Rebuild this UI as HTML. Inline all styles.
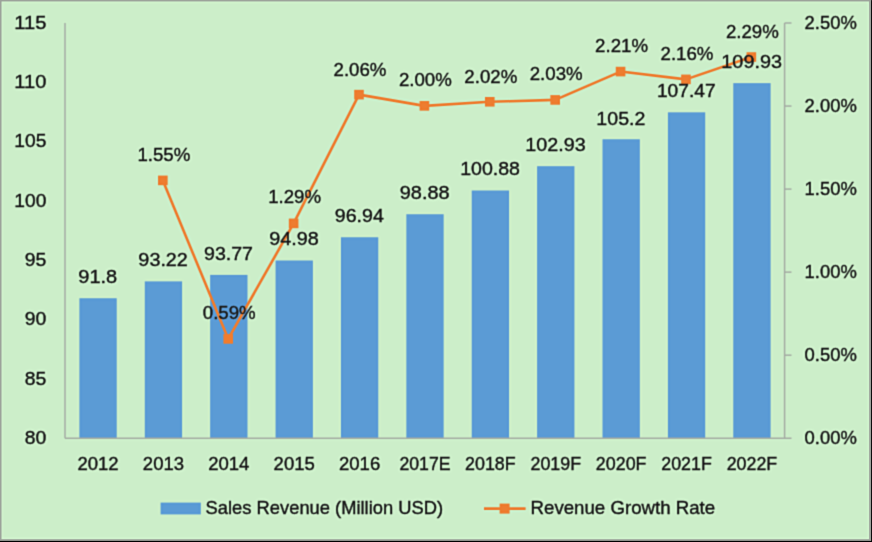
<!DOCTYPE html>
<html><head><meta charset="utf-8"><title>Chart</title>
<style>
html,body{margin:0;padding:0;background:#000;}
body{width:872px;height:542px;overflow:hidden;}
svg{display:block;}
text{font-family:"Liberation Sans",sans-serif;font-size:19.0px;fill:#1e1e1e;stroke:#1e1e1e;stroke-width:0.4px;}
</style></head><body>
<svg width="872" height="542" viewBox="0 0 872 542">
<defs><filter id="b" color-interpolation-filters="sRGB" filterUnits="userSpaceOnUse" x="-20" y="-20" width="912" height="582"><feConvolveMatrix in="SourceGraphic" order="3" kernelMatrix="0.03240 0.11520 0.03240 0.11520 0.40960 0.11520 0.03240 0.11520 0.03240" divisor="1" edgeMode="duplicate" preserveAlpha="true" result="b1"/><feGaussianBlur in="b1" stdDeviation="1.5" result="b2"/><feComposite in="b1" in2="b2" operator="arithmetic" k1="0" k2="1.35" k3="-0.35" k4="0"/></filter></defs>
<g filter="url(#b)">
<rect x="-20" y="-20" width="912" height="582" fill="#000"/>
<rect x="-20" y="-20" width="891.1" height="560.9" fill="#9a9f98"/>
<rect x="1.35" y="1.3" width="867.9" height="538.05" fill="#d3f6d0"/>
<rect x="2.4" y="2.4" width="865.7" height="535.8" fill="#cceec9"/>
<rect x="79.40" y="298.25" width="37.30" height="140.00" fill="#5b9bd5"/>
<rect x="144.79" y="281.40" width="37.30" height="156.85" fill="#5b9bd5"/>
<rect x="210.18" y="274.88" width="37.30" height="163.37" fill="#5b9bd5"/>
<rect x="275.57" y="260.52" width="37.30" height="177.73" fill="#5b9bd5"/>
<rect x="340.96" y="237.27" width="37.30" height="200.98" fill="#5b9bd5"/>
<rect x="406.35" y="214.25" width="37.30" height="224.00" fill="#5b9bd5"/>
<rect x="471.74" y="190.52" width="37.30" height="247.73" fill="#5b9bd5"/>
<rect x="537.13" y="166.20" width="37.30" height="272.05" fill="#5b9bd5"/>
<rect x="602.52" y="139.27" width="37.30" height="298.98" fill="#5b9bd5"/>
<rect x="667.91" y="112.34" width="37.30" height="325.91" fill="#5b9bd5"/>
<rect x="733.30" y="83.15" width="37.30" height="355.10" fill="#5b9bd5"/>
<g stroke="#a7b0a6" stroke-width="1.5" fill="none">
<line x1="65" y1="23.0" x2="65" y2="438.2"/>
<line x1="65" y1="438.2" x2="791.5" y2="438.2"/>
<line x1="784.6" y1="23.0" x2="784.6" y2="438.2"/>
<line x1="784.6" y1="355.20" x2="791.5" y2="355.20"/>
<line x1="784.6" y1="272.15" x2="791.5" y2="272.15"/>
<line x1="784.6" y1="189.10" x2="791.5" y2="189.10"/>
<line x1="784.6" y1="106.05" x2="791.5" y2="106.05"/>
<line x1="784.6" y1="23.00" x2="791.5" y2="23.00"/>
</g>
<polyline points="162.84,180.39 228.23,338.90 293.62,223.38 359.01,94.63 424.40,105.85 489.79,101.78 555.18,99.92 620.57,71.57 685.96,79.37 751.35,57.03" fill="none" stroke="#ed7d31" stroke-width="2.6" stroke-linejoin="round"/>
<rect x="158.04" y="175.59" width="9.6" height="9.6" fill="#ed7d31"/>
<rect x="223.43" y="334.10" width="9.6" height="9.6" fill="#ed7d31"/>
<rect x="288.82" y="218.58" width="9.6" height="9.6" fill="#ed7d31"/>
<rect x="354.21" y="89.83" width="9.6" height="9.6" fill="#ed7d31"/>
<rect x="419.60" y="101.05" width="9.6" height="9.6" fill="#ed7d31"/>
<rect x="484.99" y="96.98" width="9.6" height="9.6" fill="#ed7d31"/>
<rect x="550.38" y="95.12" width="9.6" height="9.6" fill="#ed7d31"/>
<rect x="615.77" y="66.77" width="9.6" height="9.6" fill="#ed7d31"/>
<rect x="681.16" y="74.57" width="9.6" height="9.6" fill="#ed7d31"/>
<rect x="746.55" y="52.23" width="9.6" height="9.6" fill="#ed7d31"/>
<text x="46.3" y="444.05" text-anchor="end" textLength="21.6" lengthAdjust="spacingAndGlyphs">80</text>
<text x="46.3" y="384.73" text-anchor="end" textLength="21.6" lengthAdjust="spacingAndGlyphs">85</text>
<text x="46.3" y="325.41" text-anchor="end" textLength="21.6" lengthAdjust="spacingAndGlyphs">90</text>
<text x="46.3" y="266.09" text-anchor="end" textLength="21.6" lengthAdjust="spacingAndGlyphs">95</text>
<text x="46.3" y="206.76" text-anchor="end" textLength="32.0" lengthAdjust="spacingAndGlyphs">100</text>
<text x="46.3" y="147.44" text-anchor="end" textLength="32.0" lengthAdjust="spacingAndGlyphs">105</text>
<text x="46.3" y="88.12" text-anchor="end" textLength="32.0" lengthAdjust="spacingAndGlyphs">110</text>
<text x="46.3" y="28.80" text-anchor="end" textLength="32.0" lengthAdjust="spacingAndGlyphs">115</text>
<text x="804.6" y="444.25" textLength="52.2" lengthAdjust="spacingAndGlyphs">0.00%</text>
<text x="804.6" y="361.20" textLength="52.2" lengthAdjust="spacingAndGlyphs">0.50%</text>
<text x="804.6" y="278.15" textLength="52.2" lengthAdjust="spacingAndGlyphs">1.00%</text>
<text x="804.6" y="195.10" textLength="52.2" lengthAdjust="spacingAndGlyphs">1.50%</text>
<text x="804.6" y="112.05" textLength="52.2" lengthAdjust="spacingAndGlyphs">2.00%</text>
<text x="804.6" y="29.00" textLength="52.2" lengthAdjust="spacingAndGlyphs">2.50%</text>
<text x="98.05" y="470.3" text-anchor="middle" textLength="41.2" lengthAdjust="spacingAndGlyphs">2012</text>
<text x="163.44" y="470.3" text-anchor="middle" textLength="41.2" lengthAdjust="spacingAndGlyphs">2013</text>
<text x="228.83" y="470.3" text-anchor="middle" textLength="41.2" lengthAdjust="spacingAndGlyphs">2014</text>
<text x="294.22" y="470.3" text-anchor="middle" textLength="41.2" lengthAdjust="spacingAndGlyphs">2015</text>
<text x="359.61" y="470.3" text-anchor="middle" textLength="41.2" lengthAdjust="spacingAndGlyphs">2016</text>
<text x="425.00" y="470.3" text-anchor="middle" textLength="51.2" lengthAdjust="spacingAndGlyphs">2017E</text>
<text x="490.39" y="470.3" text-anchor="middle" textLength="50.6" lengthAdjust="spacingAndGlyphs">2018F</text>
<text x="555.78" y="470.3" text-anchor="middle" textLength="50.6" lengthAdjust="spacingAndGlyphs">2019F</text>
<text x="621.17" y="470.3" text-anchor="middle" textLength="50.6" lengthAdjust="spacingAndGlyphs">2020F</text>
<text x="686.56" y="470.3" text-anchor="middle" textLength="50.6" lengthAdjust="spacingAndGlyphs">2021F</text>
<text x="751.95" y="470.3" text-anchor="middle" textLength="50.6" lengthAdjust="spacingAndGlyphs">2022F</text>
<text x="97.75" y="282.73" text-anchor="middle" textLength="38.9" lengthAdjust="spacingAndGlyphs">91.8</text>
<text x="163.14" y="265.65" text-anchor="middle" textLength="49.5" lengthAdjust="spacingAndGlyphs">93.22</text>
<text x="228.53" y="259.74" text-anchor="middle" textLength="49.0" lengthAdjust="spacingAndGlyphs">93.77</text>
<text x="293.92" y="244.96" text-anchor="middle" textLength="49.5" lengthAdjust="spacingAndGlyphs">94.98</text>
<text x="359.31" y="221.73" text-anchor="middle" textLength="49.0" lengthAdjust="spacingAndGlyphs">96.94</text>
<text x="424.70" y="198.63" text-anchor="middle" textLength="49.8" lengthAdjust="spacingAndGlyphs">98.88</text>
<text x="490.09" y="175.01" text-anchor="middle" textLength="59.8" lengthAdjust="spacingAndGlyphs">100.88</text>
<text x="555.48" y="150.95" text-anchor="middle" textLength="60.3" lengthAdjust="spacingAndGlyphs">102.93</text>
<text x="620.87" y="125.23" text-anchor="middle" textLength="49.0" lengthAdjust="spacingAndGlyphs">105.2</text>
<text x="686.26" y="97.22" text-anchor="middle" textLength="58.6" lengthAdjust="spacingAndGlyphs">107.47</text>
<text x="751.65" y="68.28" text-anchor="middle" textLength="60.6" lengthAdjust="spacingAndGlyphs">109.93</text>
<text x="163.84" y="161.00" text-anchor="middle" textLength="52.9" lengthAdjust="spacingAndGlyphs">1.55%</text>
<text x="229.23" y="319.40" text-anchor="middle" textLength="52.9" lengthAdjust="spacingAndGlyphs">0.59%</text>
<text x="294.62" y="203.00" text-anchor="middle" textLength="52.9" lengthAdjust="spacingAndGlyphs">1.29%</text>
<text x="360.01" y="75.70" text-anchor="middle" textLength="52.9" lengthAdjust="spacingAndGlyphs">2.06%</text>
<text x="425.40" y="85.70" text-anchor="middle" textLength="52.9" lengthAdjust="spacingAndGlyphs">2.00%</text>
<text x="490.79" y="82.90" text-anchor="middle" textLength="52.9" lengthAdjust="spacingAndGlyphs">2.02%</text>
<text x="556.18" y="80.40" text-anchor="middle" textLength="52.9" lengthAdjust="spacingAndGlyphs">2.03%</text>
<text x="621.57" y="51.50" text-anchor="middle" textLength="52.9" lengthAdjust="spacingAndGlyphs">2.21%</text>
<text x="686.96" y="59.80" text-anchor="middle" textLength="52.9" lengthAdjust="spacingAndGlyphs">2.16%</text>
<text x="752.35" y="37.70" text-anchor="middle" textLength="52.9" lengthAdjust="spacingAndGlyphs">2.29%</text>
<rect x="160.6" y="502.6" width="40.2" height="11.8" fill="#5b9bd5"/>
<text x="205.6" y="514.0" textLength="237.5" lengthAdjust="spacingAndGlyphs">Sales Revenue (Million USD)</text>
<line x1="484" y1="508.6" x2="525.6" y2="508.6" stroke="#ed7d31" stroke-width="2.6"/>
<rect x="499.6" y="503.6" width="10" height="10" fill="#ed7d31"/>
<text x="530.6" y="514.0" textLength="184.5" lengthAdjust="spacingAndGlyphs">Revenue Growth Rate</text>
</g>
<rect x="0" y="0" width="872" height="1.15" fill="#9ca29a"/>
<rect x="0" y="0" width="1.2" height="542" fill="#9ca29a"/>
<rect x="869.3" y="0" width="2.0" height="541" fill="#9ca29a"/>
<rect x="0" y="539.4" width="871.3" height="1.6" fill="#9ca29a"/>
<rect x="871.2" y="0" width="0.8" height="542" fill="#000"/>
<rect x="0" y="540.9" width="872" height="1.1" fill="#000"/>
</svg>
</body></html>
